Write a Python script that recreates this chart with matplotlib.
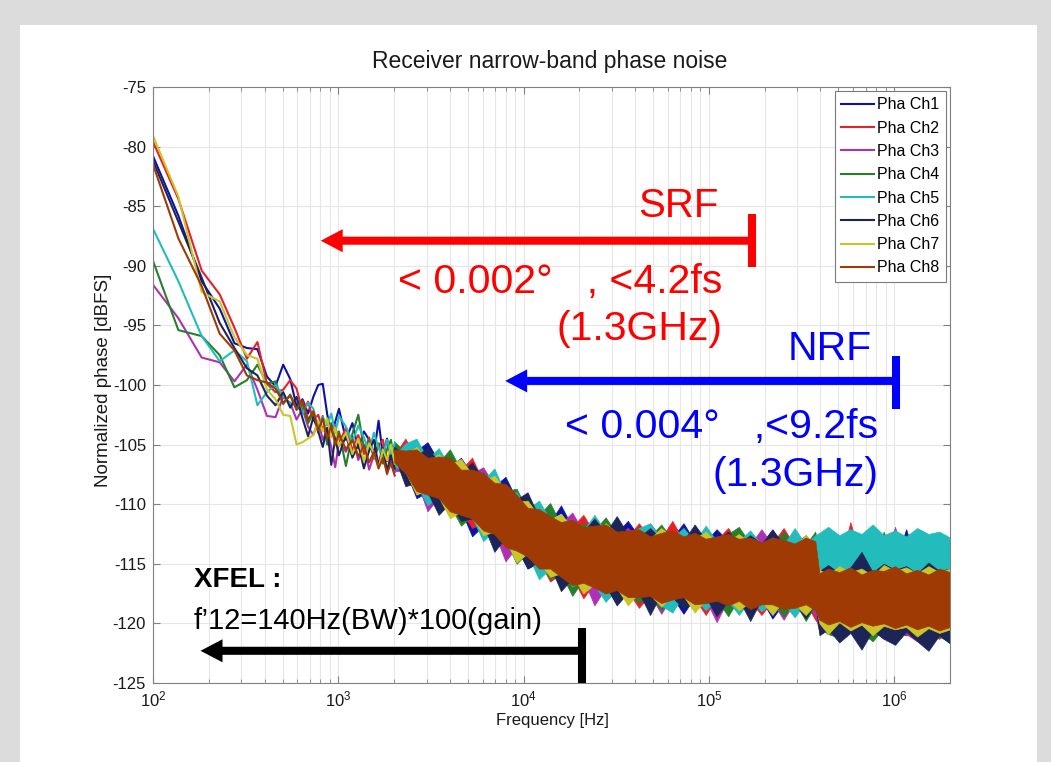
# coding: utf-8
import matplotlib
matplotlib.use('Agg')
import matplotlib.pyplot as plt
from matplotlib.patches import Rectangle

# low-frequency part (single FFT bins)
freq_low = [100, 137, 183, 229, 275, 321, 366, 412, 458, 504, 550, 595, 641, 687, 733, 779,
            824, 870, 916, 962, 1008, 1099, 1191, 1282, 1374, 1466, 1557, 1649, 1740, 1832, 1923, 2015]

ch1_low = [-80.8, -85.8, -91.3, -93.6, -96.5, -96.9, -97.0, -99.3, -100.1, -98.3, -99.5, -101.8, -101.2, -102.4, -101.0, -100.0,
           -99.9, -102.4, -104.3, -103.1, -102.0, -104.6, -103.2, -105.3, -103.9, -104.6, -105.8, -103.0, -105.9, -104.5, -106.5, -105.2]
ch2_low = [-79.6, -84.4, -90.4, -92.4, -95.2, -97.8, -96.4, -99.9, -100.6, -100.4, -99.6, -100.3, -102.2, -101.4, -103.0, -102.5,
           -103.8, -102.9, -104.1, -103.4, -104.9, -103.6, -105.5, -104.2, -105.8, -104.4, -106.2, -105.1, -104.6, -106.4, -105.3, -106.8]
ch3_low = [-91.6, -94.4, -97.7, -98.1, -99.7, -98.3, -100.4, -102.6, -102.7, -101.0, -101.5, -102.9, -102.0, -103.5, -104.2, -103.0,
           -104.6, -103.8, -105.2, -106.9, -104.8, -105.6, -104.3, -106.3, -105.0, -107.1, -105.9, -106.6, -105.2, -107.5, -106.0, -107.3]
ch4_low = [-89.6, -95.4, -95.9, -97.5, -100.2, -99.6, -98.3, -99.9, -99.7, -101.6, -100.8, -102.1, -101.6, -103.2, -102.3, -104.0,
           -102.6, -105.0, -103.2, -104.6, -103.9, -106.8, -104.1, -102.5, -105.3, -104.7, -106.0, -104.9, -106.6, -105.4, -104.6, -106.9]
ch5_low = [-86.9, -91.3, -95.9, -98.0, -97.1, -98.0, -101.7, -100.6, -100.0, -100.9, -101.6, -101.1, -102.4, -101.5, -102.0, -103.6,
           -102.7, -103.4, -102.4, -104.0, -102.6, -103.5, -104.8, -103.4, -104.4, -105.6, -104.0, -105.3, -106.0, -104.6, -105.8, -104.9]
ch6_low = [-81.2, -86.3, -91.0, -94.8, -96.9, -98.6, -99.2, -100.9, -101.7, -100.6, -101.9, -101.0, -102.8, -104.3, -102.7, -103.9,
           -105.2, -103.6, -106.7, -104.5, -105.9, -104.2, -106.1, -105.0, -107.0, -105.5, -104.6, -106.8, -105.3, -107.2, -105.9, -107.0]
ch7_low = [-79.1, -84.2, -92.2, -93.0, -96.0, -97.5, -97.8, -100.4, -101.2, -102.5, -102.6, -105.0, -104.8, -104.5, -104.2, -103.0,
           -103.9, -102.8, -104.4, -103.6, -105.1, -104.0, -105.8, -104.5, -106.4, -104.9, -105.7, -107.0, -105.4, -106.3, -105.0, -106.6]
ch8_low = [-81.5, -87.7, -91.7, -95.7, -97.1, -99.2, -99.6, -99.8, -100.3, -101.5, -100.9, -102.0, -101.3, -102.9, -102.2, -103.8,
           -102.8, -104.5, -103.4, -105.0, -104.1, -105.4, -104.6, -106.0, -105.1, -106.5, -105.6, -107.0, -106.1, -107.4, -106.6, -107.6]

# dense part: upper / lower edge of each channel's noise band
freq_band = [2000, 2300, 2640, 3030, 3480, 4000, 4590, 5270, 6050, 6950, 7980, 9160, 10500, 12100, 13900, 15900,
             18300, 21000, 24100, 27700, 31800, 36500, 41900, 48100, 55300, 63500, 72900, 83700, 96100, 110000,
             127000, 145000, 167000, 192000, 220000, 253000, 290000, 333000, 375000, 395000, 440000, 505000,
             580000, 666000, 765000, 878000, 1010000, 1160000, 1330000, 1530000, 1750000, 2000000]

ch1_hi = [-105.0, -105.8, -105.5, -104.8, -106.4, -106.9, -106.1, -107.5, -107.5, -108.5, -107.7, -109.6, -110.4, -110.1, -111.5, -110.1,
          -111.9, -112.2, -111.5, -112.5, -112.4, -111.4, -112.7, -112.9, -112.2, -112.8, -111.6, -113.1, -113.1, -112.1,
          -113.1, -113.3, -112.7, -113.3, -112.1, -113.5, -113.4, -112.6, -113.6, -115.2, -113.4, -115.0,
          -114.6, -115.3, -114.1, -115.0, -114.8, -112.1, -115.1, -114.7, -115.2, -114.9]
ch1_lo = [-106.7, -107.2, -109.5, -109.0, -109.3, -111.0, -110.5, -112.7, -111.8, -112.2, -113.7, -113.6, -115.4, -114.9, -115.2, -117.1,
          -116.1, -116.5, -117.6, -116.8, -118.4, -117.4, -117.4, -118.5, -117.5, -117.8, -119.2, -117.8, -118.6, -117.8,
          -118.1, -119.1, -118.1, -118.0, -119.6, -118.3, -119.1, -118.3, -118.3, -120.6, -120.0, -121.1,
          -120.2, -120.5, -121.4, -120.1, -120.7, -121.0, -120.3, -121.2, -120.5, -121.0]
ch2_hi = [-105.9, -104.5, -106.2, -106.1, -105.5, -106.8, -107.1, -106.1, -108.1, -107.7, -109.0, -109.6, -109.2, -111.1, -110.8, -111.7,
          -111.9, -110.9, -112.4, -111.6, -112.4, -112.7, -111.6, -112.8, -112.8, -111.4, -113.1, -112.3, -113.1, -113.0,
          -112.0, -113.3, -113.3, -112.4, -113.3, -112.0, -113.5, -113.6, -112.8, -115.0, -114.5, -115.3,
          -111.5, -114.9, -115.2, -114.4, -115.0, -114.8, -115.3, -113.1, -114.9, -115.1]
ch2_lo = [-106.0, -108.2, -108.3, -108.8, -110.7, -110.0, -110.6, -112.0, -111.6, -113.7, -113.0, -113.6, -115.0, -114.7, -116.5, -115.8,
          -116.1, -117.9, -116.6, -117.0, -117.9, -117.3, -118.7, -117.6, -117.5, -118.7, -117.7, -117.9, -119.3, -117.8,
          -118.9, -118.1, -118.1, -119.3, -118.1, -118.3, -119.3, -118.3, -119.7, -120.2, -120.9, -120.0,
          -120.6, -121.2, -120.3, -120.8, -120.4, -121.0, -120.6, -120.9, -121.3, -120.5]
ch3_hi = [-106.1, -105.1, -104.9, -106.3, -106.4, -105.9, -107.3, -107.4, -106.9, -108.4, -108.4, -109.8, -110.3, -110.2, -111.4, -111.6,
          -110.7, -112.3, -112.2, -111.4, -112.5, -112.0, -112.8, -111.6, -112.8, -112.9, -112.3, -113.1, -112.0, -113.1,
          -113.1, -112.3, -113.4, -112.1, -113.4, -113.3, -112.5, -113.6, -113.5, -115.1, -114.6, -113.6,
          -115.2, -114.8, -114.4, -115.3, -111.9, -114.9, -114.5, -115.1, -113.9, -115.0]
ch3_lo = [-107.2, -107.3, -108.1, -110.6, -109.4, -110.1, -111.6, -111.0, -112.5, -112.4, -114.8, -113.6, -114.1, -115.8, -115.4, -115.7,
          -117.4, -116.3, -118.5, -117.0, -117.1, -118.2, -117.3, -117.6, -119.2, -117.7, -118.4, -117.7, -118.0, -119.9,
          -118.0, -117.9, -119.2, -118.2, -118.2, -119.7, -118.2, -118.4, -119.3, -120.8, -120.3, -120.9,
          -120.4, -121.0, -120.6, -121.3, -120.5, -120.9, -121.5, -120.7, -121.1, -120.6]
ch4_hi = [-104.7, -105.7, -106.2, -105.4, -106.5, -105.4, -107.1, -107.6, -107.3, -108.4, -108.9, -108.7, -110.5, -110.9, -109.9, -111.7,
          -112.1, -111.6, -112.2, -111.1, -112.5, -112.7, -111.9, -112.7, -111.7, -113.0, -113.0, -112.0, -113.0, -113.2,
          -112.5, -111.9, -113.3, -113.2, -113.5, -112.3, -113.5, -113.4, -112.3, -114.7, -115.2, -114.4,
          -113.8, -115.0, -114.8, -112.3, -115.1, -114.6, -114.3, -115.0, -113.5, -114.9]
ch4_lo = [-106.1, -107.1, -109.1, -108.9, -110.5, -110.1, -111.8, -111.0, -111.7, -113.1, -113.0, -115.0, -114.1, -114.8, -116.3, -115.8,
          -117.7, -116.3, -116.7, -118.1, -117.2, -117.2, -118.3, -117.5, -118.9, -117.8, -117.6, -118.9, -117.9, -118.0,
          -119.4, -117.9, -118.9, -118.2, -118.2, -119.4, -118.2, -119.8, -118.5, -120.4, -120.9, -121.2,
          -120.5, -120.8, -121.5, -120.4, -121.0, -120.6, -121.3, -120.8, -121.1, -121.6]
ch5_hi = [-106.0, -104.9, -104.5, -106.2, -105.3, -106.9, -106.4, -107.4, -108.0, -107.0, -109.1, -109.0, -110.4, -109.7, -111.3, -110.8,
          -112.1, -112.2, -110.9, -112.3, -111.5, -112.7, -112.0, -111.6, -112.9, -112.8, -112.0, -113.1, -111.8, -113.1,
          -112.4, -113.1, -112.2, -113.4, -112.5, -113.4, -112.0, -113.4, -112.6, -112.4, -111.9, -112.6,
          -112.1, -112.5, -111.7, -112.6, -112.2, -112.7, -112.0, -112.5, -112.3, -112.8]
ch5_lo = [-106.9, -107.2, -108.3, -110.1, -109.3, -110.8, -110.6, -111.1, -113.1, -112.2, -113.0, -114.6, -114.2, -116.3, -115.4, -115.6,
          -116.9, -116.4, -116.8, -118.2, -117.0, -118.3, -117.5, -117.5, -118.5, -119.1, -117.6, -117.9, -118.9, -117.9,
          -118.1, -119.3, -118.0, -119.0, -118.2, -118.3, -119.5, -118.2, -118.4, -115.6, -116.0, -115.5,
          -116.1, -115.6, -116.2, -115.7, -116.0, -115.5, -116.1, -115.8, -116.3, -115.9]
ch6_hi = [-105.2, -105.9, -106.0, -105.2, -106.5, -106.2, -107.3, -106.5, -107.9, -108.4, -108.1, -109.6, -109.0, -111.1, -111.4, -111.0,
          -111.9, -112.3, -111.2, -112.4, -111.0, -112.5, -112.8, -112.0, -112.9, -112.8, -113.1, -111.7, -113.0, -113.1,
          -112.3, -113.3, -112.6, -113.3, -112.2, -113.3, -113.6, -112.7, -113.6, -115.6, -115.1, -115.8,
          -115.3, -114.0, -115.7, -115.0, -115.5, -115.2, -115.8, -114.9, -115.6, -115.4]
ch6_lo = [-105.9, -108.5, -108.2, -109.0, -110.9, -109.9, -111.4, -111.2, -111.7, -114.0, -112.8, -113.7, -115.4, -114.8, -115.2, -117.3,
          -116.2, -117.4, -116.7, -116.8, -118.5, -117.4, -117.4, -119.3, -117.5, -117.8, -118.8, -117.8, -117.8, -119.4,
          -118.1, -118.0, -119.8, -118.0, -119.2, -118.3, -118.3, -119.6, -118.3, -121.0, -120.5, -121.6,
          -120.8, -122.2, -120.6, -121.3, -121.8, -120.7, -121.5, -122.3, -121.0, -121.7]
ch7_hi = [-105.9, -105.8, -105.2, -106.4, -105.8, -106.7, -106.2, -107.5, -108.1, -107.6, -108.9, -109.8, -109.7, -111.0, -111.3, -110.8,
          -112.0, -112.1, -112.4, -111.6, -112.4, -112.6, -112.1, -112.9, -112.0, -112.8, -113.0, -112.9, -112.3, -113.2,
          -113.1, -112.5, -113.3, -113.4, -112.8, -113.3, -113.5, -112.6, -113.5, -115.5, -115.9, -115.2,
          -115.7, -115.4, -116.0, -115.1, -115.6, -115.3, -115.8, -115.2, -115.7, -115.4]
ch7_lo = [-106.0, -107.3, -109.2, -108.8, -109.4, -111.2, -110.6, -111.0, -112.6, -112.3, -113.0, -114.9, -114.1, -114.8, -116.1, -115.8,
          -116.0, -117.5, -116.7, -117.0, -117.0, -118.5, -117.4, -117.6, -118.6, -117.6, -117.7, -119.1, -118.0, -117.8,
          -118.0, -118.9, -118.2, -118.1, -119.3, -118.1, -118.4, -119.3, -118.4, -120.0, -120.9, -119.9,
          -120.6, -120.1, -121.0, -120.2, -120.5, -120.3, -121.1, -120.4, -120.8, -120.5]
ch8_hi = [-105.4, -105.5, -105.4, -106.1, -106.0, -106.1, -107.1, -107.1, -107.4, -108.2, -108.3, -109.2, -110.3, -110.4, -111.0, -111.5,
          -111.3, -111.9, -111.8, -111.7, -112.3, -112.2, -112.1, -112.7, -112.4, -112.2, -112.7, -112.4, -112.9, -112.7,
          -112.5, -112.9, -112.8, -113.2, -112.8, -113.0, -113.3, -112.8, -113.1, -115.8, -115.4, -115.7,
          -115.3, -115.9, -115.5, -115.6, -115.2, -115.8, -115.5, -115.9, -115.4, -115.7]
ch8_lo = [-106.5, -107.4, -108.9, -109.2, -109.5, -110.6, -110.9, -111.2, -112.2, -112.5, -113.6, -113.9, -114.4, -115.4, -115.4, -116.1,
          -116.8, -116.6, -117.0, -117.5, -117.2, -117.8, -117.8, -117.7, -118.3, -118.0, -117.8, -118.4, -118.3, -118.1,
          -118.5, -118.1, -118.8, -118.4, -118.4, -118.8, -118.7, -118.4, -118.9, -119.7, -120.1, -119.8,
          -120.3, -119.9, -120.2, -120.0, -120.4, -120.1, -120.5, -120.2, -120.6, -120.3]

labels = ['Pha Ch1', 'Pha Ch2', 'Pha Ch3', 'Pha Ch4', 'Pha Ch5', 'Pha Ch6', 'Pha Ch7', 'Pha Ch8']
colors = ['#0c12a6', '#e8202a', '#b030b3', '#24802a', '#22bcbc', '#1c2558', '#cbc627', '#a03a05']
yticks = [-125, -120, -115, -110, -105, -100, -95, -90, -85, -80, -75]


def bar_arrow(ax, x_tail, x_tip, y, y_bar, color):
    # thick arrow pointing left, with a vertical stop bar at its tail
    ax.annotate('', xy=(x_tip, y), xytext=(x_tail, y),
                arrowprops=dict(arrowstyle='simple,head_length=0.79,head_width=0.83,tail_width=0.29',
                                mutation_scale=20, color=color, lw=0, shrinkA=0, shrinkB=0), zorder=6)
    ax.plot([x_tail, x_tail], y_bar, color=color, lw=5.8, solid_capstyle='butt', zorder=6, clip_on=False)


def draw_chart():
    plt.rcParams['font.family'] = ['Liberation Sans', 'DejaVu Sans']
    plt.rcParams['axes.unicode_minus'] = False

    fig = plt.figure(figsize=(10.51, 7.62), dpi=100, facecolor='#dcdcdc')
    fig.add_artist(Rectangle((20 / 1051, 0), 1017 / 1051, 737 / 762, transform=fig.transFigure,
                             facecolor='white', edgecolor='none', zorder=-1))
    ax = fig.add_axes([0.1456, 0.1037, 0.7583, 0.7822])

    lows = [ch1_low, ch2_low, ch3_low, ch4_low, ch5_low, ch6_low, ch7_low, ch8_low]
    his = [ch1_hi, ch2_hi, ch3_hi, ch4_hi, ch5_hi, ch6_hi, ch7_hi, ch8_hi]
    los = [ch1_lo, ch2_lo, ch3_lo, ch4_lo, ch5_lo, ch6_lo, ch7_lo, ch8_lo]
    for k in range(8):
        z = 2 + 0.01 * k
        ax.plot(freq_low, lows[k], color=colors[k], lw=1.5, label=labels[k], zorder=z)
        ax.fill_between(freq_band, los[k], his[k], color=colors[k], lw=0.5, zorder=z)

    ax.set_xscale('log')
    ax.set_xlim(100, 2e6)
    ax.set_ylim(-125, -75)
    ax.set_yticks(yticks)
    ax.grid(True, which='major', color='#e6e6e6', lw=0.8)
    ax.grid(True, which='minor', axis='x', color='#e6e6e6', lw=0.8)
    ax.set_axisbelow(True)
    ax.tick_params(which='both', direction='in', top=True, right=True, color='#808080',
                   labelcolor='#1a1a1a', labelsize=12, pad=5)
    ax.tick_params(which='major', length=5)
    ax.tick_params(which='minor', length=3)
    for sp in ax.spines.values():
        sp.set_color('#808080')
        sp.set_linewidth(0.8)

    fig.text(549.5 / 1051, 1 - 68 / 762, 'Receiver narrow-band phase noise', ha='center', va='baseline',
             fontsize=16.5, color='#1a1a1a')
    fig.text(103 / 1051, 1 - 380 / 762, 'Normalized phase [dBFS]', rotation=90, ha='center', va='center',
             fontsize=13.5, color='#1a1a1a')
    fig.text(552 / 1051, 1 - 720 / 762, 'Frequency [Hz]', ha='center', va='center', fontsize=12, color='#1a1a1a')

    leg = ax.legend(loc='upper right', bbox_to_anchor=(1, 1), borderaxespad=0.25, fontsize=11.5,
                    handlelength=2.07, handletextpad=0.2, labelspacing=0.52, borderpad=0.4,
                    fancybox=False, edgecolor='#7a7a7a', framealpha=1)
    leg.get_frame().set_linewidth(0.8)
    leg.set_zorder(7)

    # SRF
    bar_arrow(ax, 1.715e5, 804, -87.9, [-85.65, -90.1], 'red')
    ax.text(1.124e5, -85.9, 'SRF', color='red', fontsize=29, ha='right', va='baseline', zorder=6)
    ax.text(1.177e5, -92.3, '< 0.002°   , <4.2fs', color='red', fontsize=29.5, ha='right', va='baseline', zorder=6)
    ax.text(1.177e5, -96.27, '(1.3GHz)', color='red', fontsize=29.5, ha='right', va='baseline', zorder=6)

    # NRF
    bar_arrow(ax, 1.025e6, 7957, -99.66, [-97.57, -102.04], 'blue')
    ax.text(7.6e5, -97.9, 'NRF', color='blue', fontsize=29.5, ha='right', va='baseline', zorder=6)
    ax.text(8.21e5, -104.47, '< 0.004°   ,<9.2fs', color='blue', fontsize=29.5, ha='right', va='baseline', zorder=6)
    ax.text(8.21e5, -108.5, '(1.3GHz)', color='blue', fontsize=29.5, ha='right', va='baseline', zorder=6)

    # XFEL
    bar_arrow(ax, 2.07e4, 180.5, -122.3, [-120.4, -125.0], 'black')
    ax.text(165.5, -116.95, 'XFEL :', color='black', fontsize=20, fontweight='bold', ha='left', va='baseline', zorder=6)
    ax.text(165.5, -120.5, 'f\u201912=140Hz(BW)*100(gain)', color='black', fontsize=21, ha='left', va='baseline', zorder=6)

    fig.savefig('out.png', dpi=100, facecolor=fig.get_facecolor())


if __name__ == '__main__':
    draw_chart()
